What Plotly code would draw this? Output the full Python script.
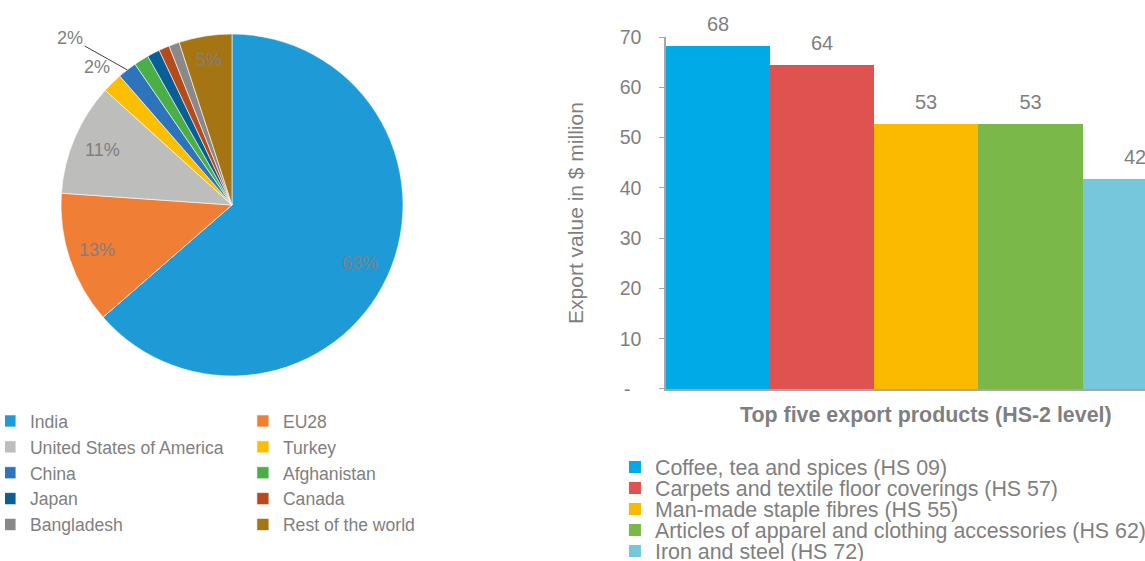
import math
import plotly.graph_objects as go

# ---------------- data ----------------
countries = ["India", "EU28", "United States of America", "Turkey", "China",
             "Afghanistan", "Japan", "Canada", "Bangladesh", "Rest of the world"]
shares = [63.6, 12.5, 10.6, 1.9, 1.8, 1.4, 1.2, 1.0, 1.0, 5.0]
share_labels = ["63%", "13%", "11%", "2%", "2%", "", "", "", "", "5%"]
pie_colors = ["#1E9BD7", "#F07F35", "#BDBDBB", "#FCBE00", "#2E74BC",
              "#4BAE47", "#0A5E96", "#B54A1A", "#898989", "#A67513"]

products = ["Coffee, tea and spices (HS 09)",
            "Carpets and textile floor coverings (HS 57)",
            "Man-made staple fibres (HS 55)",
            "Articles of apparel and clothing accessories (HS 62)",
            "Iron and steel (HS 72)"]
export_values = [68.3, 64.4, 52.7, 52.7, 41.7]
bar_colors = ["#00AAE6", "#DF524F", "#FBBA00", "#7AB949", "#76C7DB"]

y_tickvals = [0, 10, 20, 30, 40, 50, 60, 70]
y_ticktext = ["-\u00a0\u00a0", "10", "20", "30", "40", "50", "60", "70"]

# ---------------- styling ----------------
GREY = "#7F7F7F"
FONT = "Liberation Sans, Arial, sans-serif"
W, H = 1145, 561
ML = 10
PW = W - ML  # plot-area width in px (r = 0)

pie_dom_x = [0.0449, 0.3463]
pie_dom_y = [0.3298, 0.9394]
# label radius (fraction of pie radius) per slice; None = no label
label_radius = [0.82, 0.83, 0.82, 1.13, None, None, None, None, None, 0.86]
pulled_label = 4          # China: label pulled out with a leader line
pulled_offset = (-57, -32)

fig = go.Figure()

fig.add_trace(go.Pie(
    labels=countries, values=shares, textinfo="none",
    marker=dict(colors=pie_colors, line=dict(color="white", width=0.6)),
    sort=False, direction="clockwise", rotation=0,
    domain=dict(x=pie_dom_x, y=pie_dom_y),
    legend="legend", hoverinfo="label+percent",
))

# pie labels placed along each slice's mid-angle (clockwise from 12 o'clock)
cx = (pie_dom_x[0] + pie_dom_x[1]) / 2
cy = (pie_dom_y[0] + pie_dom_y[1]) / 2
R_px = (pie_dom_x[1] - pie_dom_x[0]) * PW / 2
total = sum(shares)
annotations = []
cum = 0.0
for i, (s, lab) in enumerate(zip(shares, share_labels)):
    mid = (cum + s / 2) / total * 2 * math.pi
    cum += s
    if not lab:
        continue
    if i == pulled_label:
        tipx = cx + R_px * math.sin(mid) / PW
        tipy = cy + R_px * math.cos(mid) / H
        annotations.append(dict(
            text=lab, x=tipx, y=tipy, xref="paper", yref="paper",
            ax=pulled_offset[0], ay=pulled_offset[1], showarrow=True,
            arrowhead=0, arrowwidth=1, arrowcolor="#404040", standoff=0,
            font=dict(color=GREY, size=18, family=FONT)))
        continue
    rr = label_radius[i] * R_px
    annotations.append(dict(
        text=lab, x=cx + rr * math.sin(mid) / PW, y=cy + rr * math.cos(mid) / H,
        xref="paper", yref="paper", showarrow=False,
        xanchor="center", yanchor="middle",
        font=dict(color=GREY, size=18, family=FONT)))

legend_rows_y = [0.1676, 0.1301, 0.0927, 0.0553, 0.0178]
for i, (p, v, c) in enumerate(zip(products, export_values, bar_colors)):
    fig.add_trace(go.Bar(
        x=[p], y=[v], name=p, marker=dict(color=c, line=dict(width=0)),
        width=1,
        texttemplate="<span style='font-size:20px'>%{y:.0f}</span><br>\u00a0",
        textposition="outside",
        textfont=dict(color=GREY, size=8, family=FONT), cliponaxis=False,
        legend="legend%d" % (i + 2), xaxis="x", yaxis="y",
    ))

layout_legends = {}
for i, ly in enumerate(legend_rows_y):
    layout_legends["legend%d" % (i + 2)] = dict(
        x=0.533, xanchor="left", y=ly, yanchor="middle",
        bgcolor="rgba(0,0,0,0)", font=dict(color=GREY, size=21.4, family=FONT),
    )

annotations.append(dict(
    text="<b>Top five export products (HS-2 level)</b>",
    x=2, xref="x", y=0.26, yref="paper", showarrow=False,
    xanchor="center", yanchor="middle",
    font=dict(color=GREY, size=21.4, family=FONT)))

fig.update_layout(
    width=W, height=H,
    margin=dict(l=ML, r=0, t=0, b=0, autoexpand=False),
    paper_bgcolor="white", plot_bgcolor="white",
    font=dict(family=FONT, color=GREY),
    barmode="overlay", bargap=0,
    legend=dict(orientation="h", x=-0.0045, xanchor="left", y=0.2816, yanchor="top",
                entrywidth=223, indentation=-15, bgcolor="rgba(0,0,0,0)",
                font=dict(color=GREY, size=17.6, family=FONT)),
    xaxis=dict(domain=[0.578, 1.0], type="category", range=[-0.5, 4.1],
               showticklabels=False, showgrid=False, zeroline=False,
               showline=True, linecolor="#A6A6A6", linewidth=1.5, ticks=""),
    yaxis=dict(domain=[0.3066, 0.934], range=[0, 70], tickvals=y_tickvals,
               ticktext=y_ticktext, showgrid=False, zeroline=False,
               showline=True, linecolor="#A6A6A6", linewidth=1.5,
               ticks="outside", ticklen=5, tickcolor="#A6A6A6", tickwidth=1,
               ticklabelstandoff=14,
               tickfont=dict(color=GREY, size=19.5, family=FONT),
               title=dict(text="Export value in $ million", standoff=30,
                          font=dict(color=GREY, size=21, family=FONT))),
    annotations=annotations,
    **layout_legends,
)

fig.write_html("out.html")
